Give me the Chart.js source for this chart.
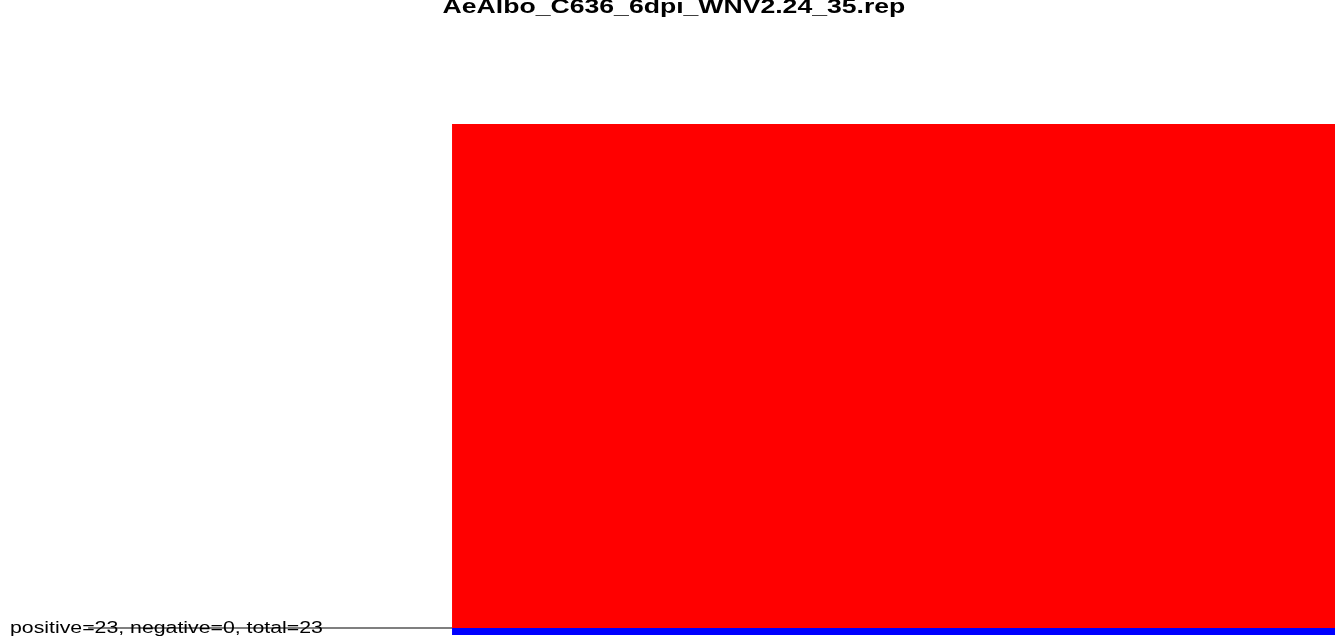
<!DOCTYPE html>
<html>
<head>
<meta charset="utf-8">
<title>AeAlbo_C636_6dpi_WNV2.24_35.rep</title>
<script src="https://cdn.jsdelivr.net/npm/chart.js@4"></script>
<style>
    body { margin: 0; background: #fff; overflow: hidden; }
    #wrap { position: relative; width: 1335px; height: 638px; }
    #title {
        position: absolute; left: 674px; top: -4px;
        font: bold 20px "Liberation Sans", Arial, sans-serif; line-height: 1;
        white-space: nowrap; color: #000;
        transform: translateX(-50%) scaleX(1.33);
    }
    #footer {
        position: absolute; left: 10px; top: 620px;
        font: 16px "Liberation Sans", Arial, sans-serif; line-height: 1;
        white-space: nowrap; color: #000;
        transform-origin: left center; transform: scaleX(1.33);
    }
</style>
</head>
<body>
<div id="wrap">
    <canvas id="chart" width="1335" height="638"></canvas>
    <div id="title"></div>
    <div id="footer"></div>
</div>
<script>
const chartTitle = 'AeAlbo_C636_6dpi_WNV2.24_35.rep'
const positive = 23
const negative = 0
const total = 23

// x positions are fractions of the track, y is read count
const trackX = [0.3386, 1.0]
const positiveY = [23, 23]
const negativeY = [-0.32, -0.32]
const baselineX = [0.066, 0.3386]
const baselineY = [0, 0]

document.getElementById('title').textContent = chartTitle
document.getElementById('footer').textContent =
    'positive=' + positive + ', negative=' + negative + ', total=' + total

const toPoints = (xs, ys) => xs.map((x, i) => ({ x: x, y: ys[i] }))

new Chart(document.getElementById('chart'), {
    type: 'line',
    data: {
        datasets: [
            {
                label: 'positive',
                data: toPoints(trackX, positiveY),
                backgroundColor: 'rgb(255, 0, 0)',
                borderWidth: 0,
                pointRadius: 0,
                fill: 'origin',
            },
            {
                label: 'negative',
                data: toPoints(trackX, negativeY),
                backgroundColor: 'rgb(0, 0, 255)',
                borderWidth: 0,
                pointRadius: 0,
                fill: 'origin',
            },
            {
                label: 'baseline',
                data: toPoints(baselineX, baselineY),
                borderColor: '#555555',
                borderWidth: 1.4,
                pointRadius: 0,
                fill: false,
            },
        ],
    },
    options: {
        responsive: false,
        animation: false,
        layout: { padding: { top: 124, bottom: 3, left: 0, right: 0 } },
        plugins: { legend: false, tooltip: false, title: { display: false } },
        scales: {
            x: { type: 'linear', min: 0, max: 1, display: false },
            y: { type: 'linear', min: -0.32, max: 23, display: false },
        },
    },
})
</script>
</body>
</html>
